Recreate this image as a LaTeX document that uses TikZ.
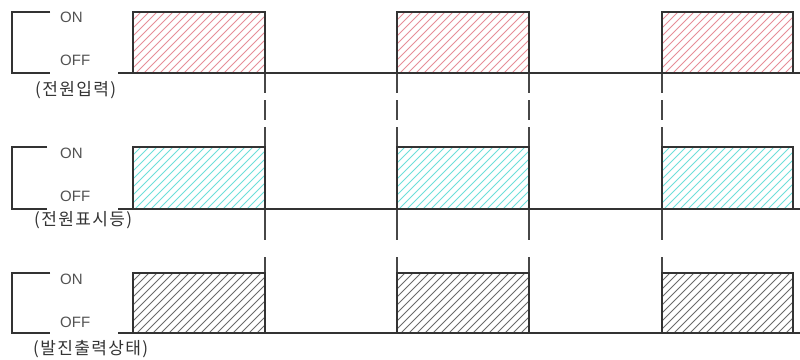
\documentclass[tikz,border=0pt]{standalone}
\usepackage{fontspec}
\setmainfont{Liberation Sans}
\newfontfamily\krfont[LetterSpace=8]{Noto Sans CJK KR}
\definecolor{hred}{HTML}{E68E98}
\definecolor{hcyan}{HTML}{6EDFDA}
\definecolor{hgray}{HTML}{6A6A6A}
\definecolor{lncol}{HTML}{333333}
\newcommand\pulsebox[5]{%
  \begin{scope}
    \clip (#1,#3) rectangle (#2,#4);
    \pgfmathsetmacro\hh{#4-#3}
    \foreach \k in {0,...,26} {\draw[hatchline,#5] ({#1+\k*8-\hh},#4) -- ++(\hh,-\hh);}
  \end{scope}
  \draw[sigline] (#1,#4) -- (#1,#3) -- (#2,#3) -- (#2,#4);
}
\begin{document}
\begin{tikzpicture}[x=1pt,y=-1pt,
  sigline/.style={draw=lncol,line width=1.2pt},
  hatchline/.style={line width=0.8pt},
  dashline/.style={draw=lncol!90,line width=1.2pt},
  lvl/.style={anchor=west,text=lncol!85,inner sep=0pt,font=\fontsize{15}{15}\selectfont},
  krlabel/.style={anchor=west,text=lncol,inner sep=0pt,font=\krfont\fontsize{17}{18}\selectfont}]
\useasboundingbox (0,0) rectangle (800,359);
\fill[white] (0,0) rectangle (800,359);
% dashed guide lines
\foreach \x in {265,397,529,662} {
  \draw[dashline,dash pattern=on 20pt off 7pt] (\x,73) -- (\x,147);
  \draw[dashline,dash pattern=on 31pt off 17pt] (\x,209) -- (\x,273);
}
% row 1
\pulsebox{133}{265}{12}{73}{hred}
\pulsebox{397}{529}{12}{73}{hred}
\pulsebox{662}{793}{12}{73}{hred}
\draw[sigline] (50,12) -- (12,12) -- (12,73) -- (50,73);
\draw[sigline] (118,73) -- (800,73);
\node[lvl] (on1) at (60,17) {ON};
\node[lvl] (off1) at (60,60) {OFF};
\node[krlabel] (lab1) at (35,90) {(전원입력)};
% row 2
\pulsebox{133}{265}{147}{209}{hcyan}
\pulsebox{397}{529}{147}{209}{hcyan}
\pulsebox{662}{793}{147}{209}{hcyan}
\draw[sigline] (47,147) -- (12,147) -- (12,209) -- (47,209);
\draw[sigline] (118,209) -- (800,209);
\node[lvl] (on2) at (60,153) {ON};
\node[lvl] (off2) at (60,196) {OFF};
\node[krlabel] (lab2) at (34,220) {(전원표시등)};
% row 3
\pulsebox{133}{265}{273}{333}{hgray}
\pulsebox{397}{529}{273}{333}{hgray}
\pulsebox{662}{793}{273}{333}{hgray}
\draw[sigline] (50,273) -- (12,273) -- (12,333) -- (50,333);
\draw[sigline] (118,333) -- (800,333);
\node[lvl] (on3) at (60,279) {ON};
\node[lvl] (off3) at (60,322) {OFF};
\node[krlabel] (lab3) at (33,349) {(발진출력상태)};
\end{tikzpicture}
\end{document}
